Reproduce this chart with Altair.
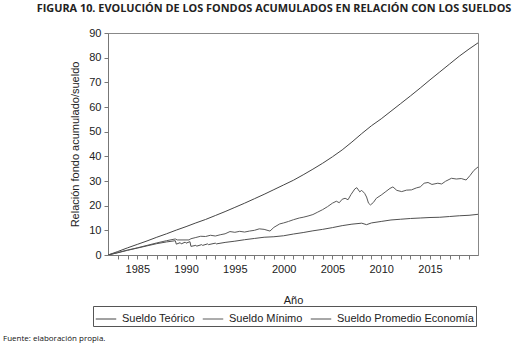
import altair as alt
import pandas as pd

# --- data ---
teorico_x = [1982, 1983, 1984, 1985, 1986, 1987, 1988, 1989, 1990, 1991, 1992, 1993, 1994,
             1995, 1996, 1997, 1998, 1999, 2000, 2001, 2002, 2003, 2004, 2005, 2006, 2007,
             2008, 2009, 2010, 2011, 2012, 2013, 2014, 2015, 2016, 2017, 2018, 2019, 2019.92]
teorico_y = [0, 1.4, 2.9, 4.3, 5.7, 7.2, 8.6, 10.1, 11.5, 13.0, 14.4, 16.0, 17.6,
             19.3, 21.0, 22.8, 24.6, 26.5, 28.4, 30.3, 32.5, 34.8, 37.2, 39.8, 42.6, 45.8,
             49.2, 52.4, 55.2, 58.3, 61.4, 64.5, 67.7, 71.0, 74.2, 77.4, 80.6, 83.5, 86.0]

minimo_x = [1982, 1983, 1984, 1985, 1986, 1987, 1988, 1988.9, 1989.1, 1990.3, 1990.5, 1991.0,
            1991.5, 1992.0, 1992.5, 1993.0, 1993.5, 1994.0, 1994.5, 1995.0, 1995.5, 1996.0,
            1996.5, 1997.0, 1997.5, 1998.0, 1998.6, 1999.0, 1999.6, 2000.0, 2000.5, 2001.0,
            2001.6, 2002.0, 2002.5, 2003.0, 2003.5, 2004.0, 2004.5, 2005.0, 2005.4, 2005.7,
            2006.0, 2006.3, 2006.6, 2006.9, 2007.3, 2007.5, 2007.8, 2008.0, 2008.3, 2008.5,
            2008.7, 2008.9, 2009.2, 2009.5, 2010.0, 2010.4, 2010.9, 2011.2, 2011.6, 2012.1,
            2012.6, 2013.1, 2013.6, 2014.0, 2014.4, 2014.8, 2015.2, 2015.8, 2016.2, 2016.6,
            2017.2, 2017.7, 2018.2, 2018.7, 2019.1, 2019.5, 2019.92]
minimo_y = [0, 1.0, 2.0, 2.9, 3.9, 4.9, 5.8, 6.5, 6.1, 6.1, 6.6, 7.1,
            7.6, 7.5, 8.0, 7.7, 8.2, 8.6, 9.5, 9.2, 9.6, 9.3,
            9.7, 10.0, 10.6, 10.4, 9.7, 11.2, 12.6, 13.0, 13.6, 14.3,
            15.0, 15.3, 15.8, 16.4, 17.4, 18.4, 19.6, 21.0, 21.8, 21.2,
            22.6, 23.0, 22.4, 24.5, 26.8, 27.3, 25.6, 26.2, 25.0, 23.5,
            21.0, 20.3, 21.3, 23.0, 24.3, 25.5, 27.0, 27.6, 26.2, 25.7,
            26.3, 26.4, 27.2, 27.6, 29.1, 29.4, 28.6, 29.1, 28.8, 29.9,
            31.1, 30.8, 31.0, 30.4, 32.2, 34.3, 35.7]

promedio_x = [1982, 1983, 1984, 1985, 1986, 1987, 1988, 1988.9, 1989.0, 1989.4, 1989.5,
              1989.9, 1990.0, 1990.4, 1990.5, 1991.0, 1991.1, 1991.6, 1991.7, 1992.2, 1992.3,
              1993.0, 1993.1, 1994, 1995, 1996, 1997, 1998, 1999, 2000, 2001, 2002, 2003,
              2004, 2005, 2006, 2007, 2008, 2008.5, 2009, 2010, 2011, 2012, 2013, 2014,
              2015, 2016, 2017, 2018, 2019, 2019.92]
promedio_y = [0, 0.9, 1.9, 2.8, 3.7, 4.6, 5.3, 5.8, 4.4, 5.0, 4.5,
              5.2, 4.8, 5.4, 3.5, 3.9, 3.6, 4.2, 3.9, 4.5, 4.2,
              4.8, 4.5, 5.1, 5.6, 6.2, 6.7, 7.2, 7.4, 7.8, 8.5, 9.1, 9.8,
              10.4, 11.1, 11.9, 12.5, 12.9, 12.3, 13.0, 13.6, 14.2, 14.5, 14.8, 15.0,
              15.2, 15.3, 15.6, 15.9, 16.1, 16.5]

series_names = ["Sueldo Teórico", "Sueldo Mínimo", "Sueldo Promedio Economía"]
x_tick_values = list(range(1983, 2020))
y_tick_values = list(range(0, 91, 10))

rows = []
for name, xs, ys in zip(series_names,
                        [teorico_x, minimo_x, promedio_x],
                        [teorico_y, minimo_y, promedio_y]):
    for a, b in zip(xs, ys):
        rows.append({"serie": name, "anio": a, "valor": b})
df = pd.DataFrame(rows)

FONT = "Liberation Sans"

lines = alt.Chart(df).mark_line(strokeWidth=1, clip=True).encode(
    x=alt.X("anio:Q",
            scale=alt.Scale(domain=[1982, 2019.92], nice=False, zero=False),
            axis=alt.Axis(values=x_tick_values, format="d",
                          labelExpr="datum.value % 5 == 0 ? datum.label : ''",
                          title="Año", titlePadding=20, labelPadding=4,
                          tickSize=4, grid=False, labelFlush=False)),
    y=alt.Y("valor:Q",
            scale=alt.Scale(domain=[0, 90], nice=False),
            axis=alt.Axis(values=y_tick_values, title="Relación fondo acumulado/sueldo",
                          titlePadding=8, tickSize=4, grid=False, labelPadding=3)),
    color=alt.Color("serie:N",
                    scale=alt.Scale(domain=series_names,
                                    range=["#454545", "#5a5a5a", "#505050"]),
                    legend=alt.Legend(title=None, orient="none", direction="horizontal",
                                      legendX=-15, legendY=273,
                                      symbolType="stroke", symbolSize=420,
                                      symbolStrokeWidth=1,
                                      strokeColor="#555555", padding=2,
                                      labelFontSize=11, labelFont=FONT,
                                      labelColor="#222222", columnPadding=5,
                                      labelOffset=5, symbolOffset=0)),
    detail="serie:N",
)

source = alt.Chart(pd.DataFrame({"t": ["Fuente: elaboración propia."]})).mark_text(
    align="left", baseline="middle", fontSize=8, font="Open Sans", color="#111111"
).encode(x=alt.value(-105), y=alt.value(306), text="t:N")

chart = alt.layer(lines, source).properties(
    width=370, height=222,
    padding={"left": 108, "top": 33, "right": 44, "bottom": 96},
    autosize=alt.AutoSizeParams(type="none"),
    title=alt.TitleParams(
        "FIGURA 10. EVOLUCIÓN DE LOS FONDOS ACUMULADOS EN RELACIÓN CON LOS SUELDOS",
        anchor="middle", frame="group", dx=-19, offset=13, font="Open Sans",
        fontSize=10.9, fontWeight="bold", color="#222222"),
).configure_view(stroke="#888888", strokeWidth=1).configure_axis(
    labelFont=FONT, titleFont=FONT, labelFontSize=11, titleFontSize=11,
    labelColor="#222222", titleColor="#222222", titleFontWeight="normal",
    domainColor="#777777", tickColor="#777777"
)

chart.save("out.html", embed_options={"renderer": "svg", "actions": False})
